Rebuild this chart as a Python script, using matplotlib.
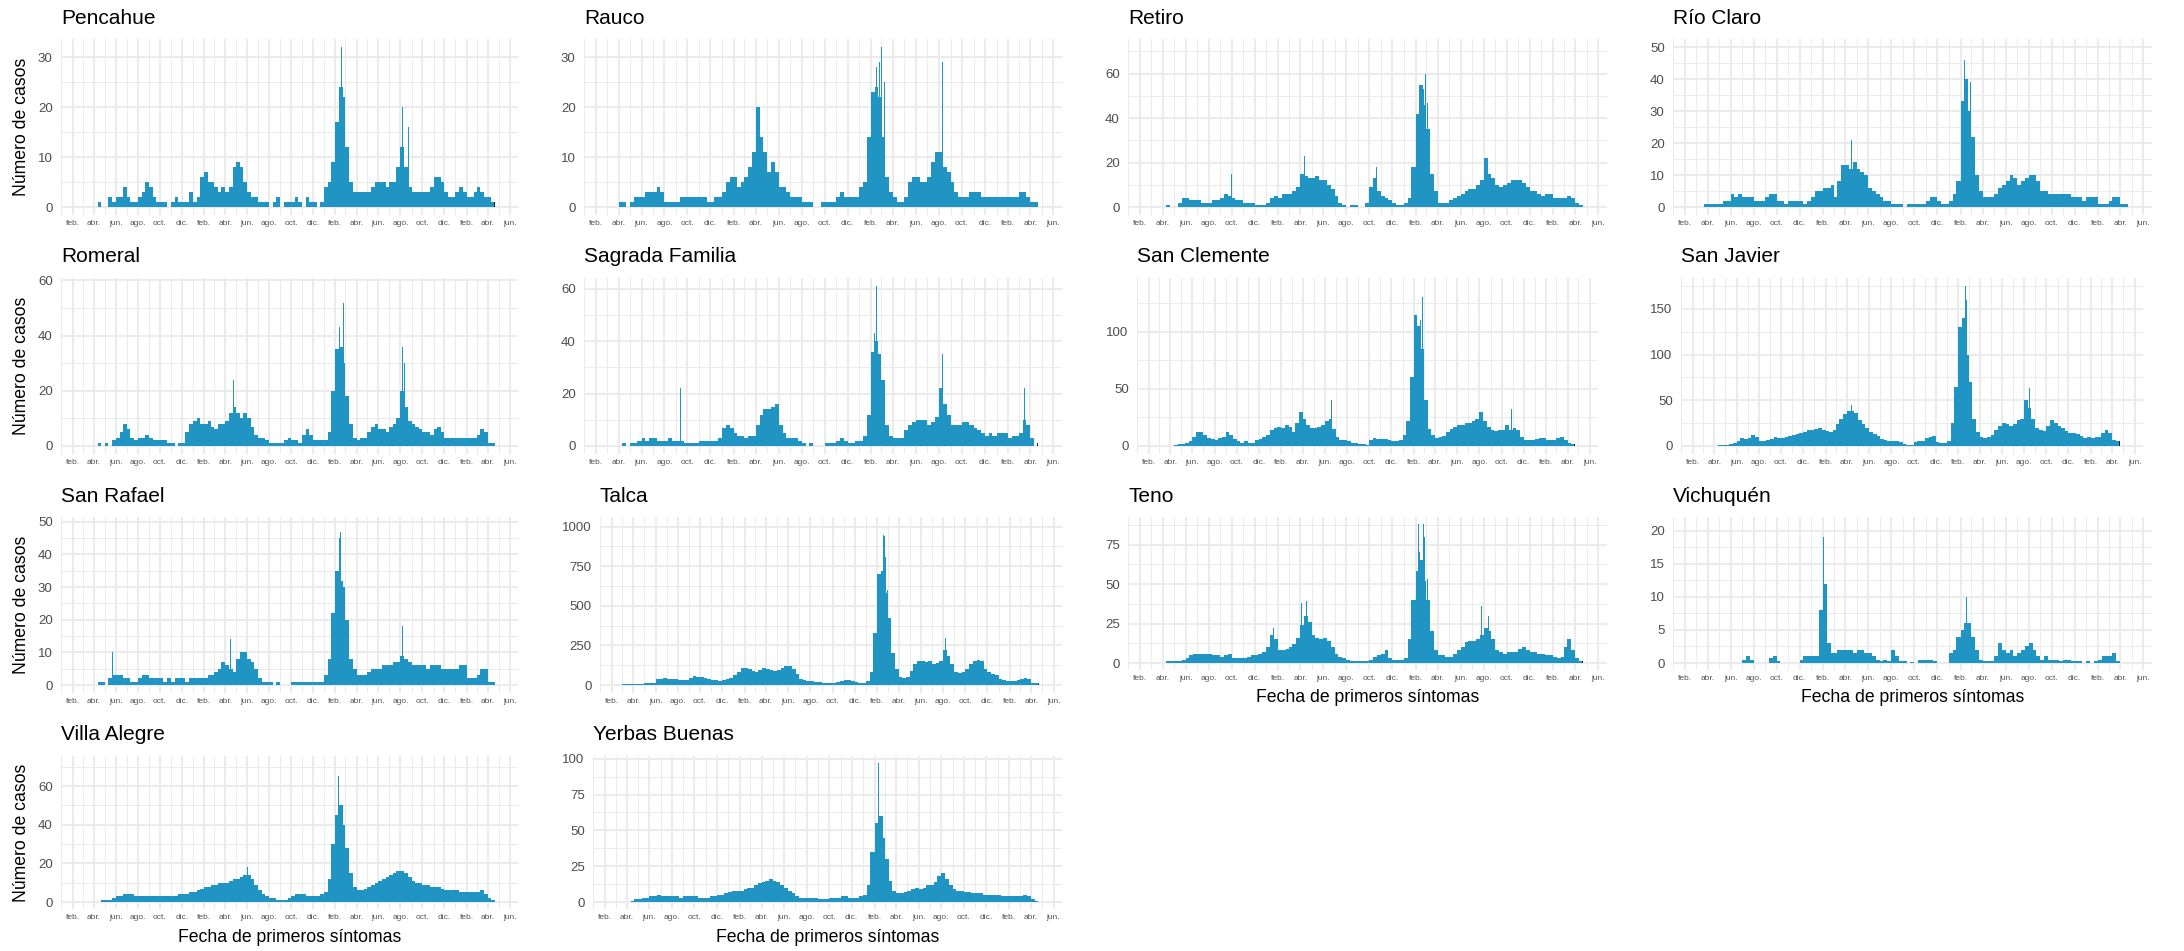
import numpy as np
import pandas as pd
import matplotlib
matplotlib.use("Agg")
import matplotlib.pyplot as plt
import matplotlib.dates as mdates
from matplotlib.ticker import MultipleLocator, FuncFormatter

plt.rcParams['font.family'] = ['Liberation Sans', 'DejaVu Sans']

comunas = ["Pencahue", "Rauco", "Retiro", "Río Claro", "Romeral", "Sagrada Familia",
           "San Clemente", "San Javier", "San Rafael", "Talca", "Teno", "Vichuquén",
           "Villa Alegre", "Yerbas Buenas"]

# casos diarios típicos por decena (días 1-10, 11-20, 21-fin), mar. 2020 .. abr. 2023
pencahue = [0, 0, 0, 0, 1, 0, 0, 2, 1, 2, 2, 4, 2, 1, 1, 2, 3, 5, 4, 2, 1, 1, 1, 0, 1, 2, 1, 1, 1, 3,
            1, 2, 6, 7, 5, 5, 4, 3, 4, 3, 4, 8, 9, 8, 5, 3, 2, 2, 1, 1, 1, 0, 1, 2, 0, 1, 1, 1, 2, 1, 0, 2, 1, 1, 0, 1,
            4, 5, 9, 17, 24, 22, 12, 5, 3, 3, 3, 3, 3, 4, 5, 5, 5, 4, 5, 5, 8, 12, 8, 4, 3, 3, 3, 3, 3, 4, 6, 6, 5, 3, 2, 2,
            3, 4, 3, 2, 2, 3, 4, 3, 2, 2, 1, 0]
rauco = [0, 0, 0, 1, 1, 0, 1, 2, 2, 2, 3, 3, 3, 4, 3, 1, 1, 1, 1, 2, 2, 2, 2, 2, 2, 2, 1, 1, 2, 2,
         3, 5, 6, 6, 4, 5, 6, 8, 11, 20, 14, 11, 7, 9, 7, 4, 4, 3, 2, 2, 2, 1, 1, 1, 0, 0, 1, 1, 1, 1, 2, 3, 2, 2, 2, 2,
         4, 5, 14, 23, 24, 22, 14, 6, 3, 2, 1, 1, 2, 5, 6, 6, 5, 5, 6, 9, 11, 11, 8, 7, 5, 3, 2, 2, 2, 3, 3, 3, 2, 2, 2, 2,
         2, 2, 2, 2, 2, 2, 3, 3, 2, 1, 1, 0]
retiro = [0, 0, 0, 0, 1, 0, 0, 2, 4, 4, 3, 3, 3, 2, 2, 2, 3, 3, 4, 6, 5, 4, 3, 3, 2, 2, 2, 1, 1, 1,
          2, 4, 5, 4, 6, 6, 6, 7, 9, 15, 14, 13, 13, 14, 12, 12, 10, 8, 5, 2, 1, 0, 1, 1, 0, 0, 2, 9, 13, 7, 5, 4, 3, 2, 1, 1,
          2, 4, 18, 42, 55, 46, 35, 15, 7, 2, 2, 2, 3, 4, 5, 6, 7, 8, 8, 10, 12, 22, 15, 13, 10, 9, 10, 11, 12, 12, 12, 11, 9, 7, 7, 6,
          5, 6, 6, 4, 4, 4, 4, 5, 4, 2, 1, 0]
rio_claro = [0, 0, 1, 1, 1, 1, 1, 2, 2, 4, 3, 4, 3, 3, 3, 2, 2, 2, 3, 4, 4, 2, 2, 1, 2, 2, 2, 2, 1, 2,
             3, 5, 5, 6, 6, 7, 3, 8, 13, 13, 12, 14, 12, 11, 10, 6, 5, 4, 3, 2, 2, 1, 1, 1, 0, 1, 1, 1, 1, 1, 2, 3, 3, 2, 1, 1,
             2, 4, 8, 33, 40, 30, 22, 10, 5, 3, 3, 3, 4, 6, 7, 8, 10, 9, 7, 8, 9, 10, 10, 8, 5, 5, 4, 4, 4, 4, 4, 4, 3, 3, 3, 2,
             3, 3, 3, 1, 1, 1, 2, 3, 3, 1, 1, 0]
romeral = [0, 0, 0, 0, 1, 0, 1, 0, 2, 3, 5, 8, 6, 3, 2, 3, 3, 4, 3, 2, 2, 2, 2, 1, 1, 0, 1, 1, 5, 8,
           9, 10, 8, 8, 9, 7, 6, 8, 8, 9, 12, 14, 12, 10, 12, 10, 7, 4, 3, 3, 2, 1, 1, 1, 1, 2, 3, 2, 2, 1, 4, 6, 4, 2, 2, 2,
           2, 5, 20, 35, 36, 30, 18, 8, 3, 2, 3, 3, 5, 7, 8, 6, 6, 5, 7, 8, 10, 20, 14, 9, 8, 7, 6, 5, 5, 4, 6, 7, 5, 3, 3, 3,
           3, 3, 3, 3, 3, 3, 4, 6, 5, 1, 1, 0]
sagrada_familia = [0, 0, 0, 0, 1, 0, 1, 1, 2, 3, 2, 3, 3, 2, 2, 2, 3, 2, 2, 2, 1, 1, 1, 1, 2, 2, 2, 2, 2, 3,
                   7, 8, 7, 5, 4, 4, 3, 4, 4, 8, 12, 14, 14, 15, 16, 8, 5, 3, 3, 3, 2, 1, 0, 1, 0, 0, 0, 1, 1, 1, 2, 3, 2, 1, 1, 2,
                   2, 4, 12, 36, 40, 35, 25, 8, 4, 3, 3, 3, 6, 8, 9, 10, 10, 10, 8, 9, 11, 22, 16, 12, 8, 8, 8, 9, 9, 8, 7, 6, 5, 4, 5, 4,
                   5, 5, 5, 3, 4, 4, 5, 10, 8, 3, 0, 0]
san_clemente = [0, 0, 0, 0, 1, 2, 2, 3, 4, 8, 12, 12, 10, 7, 6, 5, 7, 8, 12, 10, 6, 4, 3, 4, 3, 3, 5, 6, 8, 10,
                14, 16, 17, 16, 18, 17, 12, 20, 30, 24, 18, 16, 16, 17, 18, 22, 24, 15, 8, 5, 5, 4, 3, 3, 2, 2, 1, 5, 7, 6, 6, 6, 5, 4, 4, 5,
                10, 22, 60, 115, 105, 85, 40, 15, 10, 7, 8, 9, 12, 15, 17, 18, 18, 20, 20, 22, 24, 30, 22, 17, 14, 13, 14, 14, 18, 14, 16, 14, 8, 5, 5, 5,
                6, 7, 7, 5, 5, 5, 7, 8, 5, 3, 2, 0]
san_javier = [0, 0, 0, 0, 1, 1, 1, 2, 3, 6, 9, 8, 9, 12, 10, 6, 5, 7, 8, 10, 9, 9, 10, 11, 12, 13, 14, 15, 17, 18,
              19, 20, 18, 16, 15, 17, 24, 30, 35, 38, 38, 36, 28, 24, 20, 15, 13, 11, 8, 7, 6, 5, 5, 4, 2, 1, 1, 4, 6, 6, 9, 10, 11, 4, 3, 3,
              6, 25, 65, 130, 140, 100, 70, 30, 15, 10, 9, 10, 12, 18, 22, 25, 24, 22, 24, 28, 30, 50, 42, 30, 20, 18, 16, 22, 28, 25, 22, 20, 16, 14, 14, 13,
              11, 9, 10, 9, 10, 10, 14, 18, 14, 7, 5, 0]
san_rafael = [0, 0, 0, 0, 1, 1, 0, 2, 3, 3, 3, 2, 2, 1, 1, 2, 3, 3, 2, 2, 2, 2, 1, 2, 1, 2, 2, 2, 1, 2,
              2, 2, 2, 2, 3, 3, 4, 5, 7, 6, 5, 4, 8, 10, 10, 8, 7, 5, 2, 1, 1, 1, 0, 1, 0, 0, 0, 1, 1, 1, 1, 1, 1, 1, 1, 1,
              3, 8, 22, 35, 32, 30, 20, 8, 5, 3, 3, 3, 4, 5, 5, 5, 6, 6, 6, 7, 7, 9, 8, 7, 6, 6, 6, 6, 5, 6, 6, 6, 5, 5, 5, 5,
              5, 6, 6, 2, 2, 2, 3, 5, 5, 1, 1, 0]
talca = [4, 6, 6, 7, 8, 9, 10, 12, 15, 35, 40, 42, 40, 38, 35, 30, 30, 32, 45, 55, 52, 48, 45, 40, 32, 30, 28, 30, 35, 45,
         60, 85, 105, 105, 100, 90, 85, 95, 105, 100, 95, 90, 95, 110, 120, 120, 100, 70, 35, 30, 28, 25, 22, 20, 12, 10, 10, 15, 22, 25, 30, 32, 28, 18, 15, 15,
         25, 80, 330, 700, 720, 580, 420, 200, 100, 50, 45, 50, 90, 130, 150, 150, 145, 150, 130, 140, 150, 220, 180, 130, 85, 75, 80, 100, 130, 150, 160, 150, 100, 80, 70, 65,
         35, 30, 28, 25, 28, 30, 35, 42, 38, 15, 12, 0]
teno = [0, 0, 0, 0, 1, 1, 1, 1, 2, 3, 5, 6, 6, 6, 6, 6, 5, 5, 4, 5, 6, 3, 3, 3, 3, 4, 5, 5, 6, 7,
        10, 18, 15, 8, 8, 9, 10, 12, 16, 24, 30, 26, 18, 16, 15, 16, 14, 10, 6, 4, 3, 2, 1, 1, 1, 1, 1, 2, 4, 5, 6, 8, 3, 2, 2, 2,
        3, 15, 40, 58, 65, 52, 40, 20, 8, 5, 5, 4, 4, 6, 8, 10, 13, 14, 14, 15, 18, 22, 20, 15, 8, 7, 6, 7, 7, 7, 9, 10, 8, 7, 7, 6,
        6, 5, 5, 4, 3, 4, 10, 15, 8, 3, 1, 0]
vichuquen = [0, 0, 0, 0, 0, 0, 0, 0, 0, 0, 0, 0, 0.5, 1, 0.5, 0, 0, 0, 0, 0.8, 1, 0.3, 0, 0, 0, 0, 0, 0.5, 1, 1,
             1, 1, 8, 12, 3, 1.5, 1.5, 2, 2, 2, 2, 1.5, 2, 2, 1.5, 1.5, 1, 0.5, 0.3, 0.5, 0.3, 2, 1, 0.3, 0.3, 0, 0.2, 0, 0.5, 0.5, 0.5, 0.5, 0.3, 0, 0, 0,
             1.5, 2, 4, 5, 6, 6, 4, 2, 0.5, 0.3, 0.3, 0.3, 1, 3, 2, 1.5, 2, 1, 1.5, 2, 2.5, 3, 2, 1, 0.5, 1, 0.5, 0.5, 0.5, 0.3, 0.5, 0.5, 0.3, 0.3, 0.3, 0,
             0.3, 0, 0.3, 0.5, 1, 1, 1, 1.5, 0.3, 0, 0, 0]
villa_alegre = [0, 0, 0, 0, 0, 1, 1, 1, 2, 3, 3, 4, 4, 4, 3, 3, 3, 3, 3, 3, 3, 3, 3, 3, 3, 3, 4, 4, 4, 5,
                5, 6, 7, 8, 8, 9, 9, 10, 10, 10, 11, 12, 12, 13, 14, 14, 12, 9, 6, 4, 3, 2, 2, 1, 1, 1, 2, 3, 4, 4, 4, 3, 3, 3, 3, 4,
                5, 12, 30, 45, 50, 40, 28, 15, 8, 6, 6, 7, 8, 9, 10, 11, 12, 13, 14, 15, 16, 16, 15, 13, 11, 10, 10, 9, 9, 8, 8, 8, 7, 6, 6, 6,
                6, 5, 5, 5, 5, 5, 5, 6, 4, 2, 1, 0]
yerbas_buenas = [0, 0, 0, 0, 1, 2, 2, 3, 3, 4, 4, 5, 4, 4, 4, 4, 4, 3, 4, 4, 4, 4, 3, 3, 3, 4, 4, 5, 5, 6,
                 7, 8, 8, 8, 9, 10, 10, 12, 13, 14, 15, 16, 15, 14, 12, 10, 8, 6, 4, 3, 3, 3, 3, 3, 2, 2, 2, 3, 3, 3, 4, 4, 3, 3, 3, 4,
                 5, 12, 35, 55, 60, 45, 30, 15, 8, 6, 6, 7, 8, 9, 10, 9, 10, 12, 12, 14, 18, 20, 16, 12, 9, 8, 8, 7, 7, 6, 6, 6, 5, 5, 5, 5,
                 5, 4, 4, 4, 4, 4, 4, 5, 4, 2, 1, 0]

# días con los valores más altos (fecha, casos)
pencahue_picos = [("2022-02-14", 28), ("2022-02-18", 32), ("2022-02-22", 27), ("2022-03-03", 29),
                  ("2022-08-07", 20), ("2022-08-23", 16), ("2021-01-29", 12), ("2021-05-28", 12)]
rauco_picos = [("2021-04-06", 30), ("2021-04-22", 25), ("2022-02-16", 28), ("2022-02-24", 29),
               ("2022-03-01", 32), ("2022-03-09", 25), ("2022-08-10", 29)]
retiro_picos = [("2022-02-13", 67), ("2022-02-16", 72), ("2022-02-22", 53), ("2022-02-27", 60),
                ("2022-03-05", 47), ("2022-08-17", 38), ("2022-11-16", 26), ("2021-04-12", 23),
                ("2020-09-30", 15), ("2021-10-21", 18)]
rio_claro_picos = [("2022-02-12", 46), ("2022-02-18", 50), ("2022-02-21", 42), ("2022-02-24", 48),
                   ("2022-02-27", 39), ("2021-04-18", 21), ("2021-05-10", 20), ("2022-08-01", 18),
                   ("2021-02-19", 16)]
romeral_picos = [("2022-02-03", 53), ("2022-02-09", 58), ("2022-02-13", 43), ("2022-02-24", 52),
                 ("2022-08-07", 36), ("2022-08-12", 30), ("2021-04-24", 24), ("2020-12-07", 18)]
sagrada_familia_picos = [("2022-02-10", 43), ("2022-02-16", 61), ("2022-02-23", 51), ("2022-03-02", 42),
                         ("2022-08-10", 35), ("2021-05-24", 24), ("2020-09-12", 22), ("2023-03-16", 22)]
san_clemente_picos = [("2022-02-10", 115), ("2022-02-13", 140), ("2022-02-15", 135), ("2022-02-20", 110),
                      ("2022-02-25", 130), ("2020-09-04", 42), ("2021-03-30", 43), ("2021-06-19", 40),
                      ("2022-08-13", 42), ("2022-10-28", 32)]
san_javier_picos = [("2022-02-12", 133), ("2022-02-17", 145), ("2022-02-19", 140), ("2022-02-21", 175),
                    ("2022-02-23", 160), ("2022-03-13", 113), ("2022-08-12", 63), ("2022-08-16", 63),
                    ("2021-04-13", 45), ("2022-10-22", 42)]
san_rafael_picos = [("2022-02-13", 45), ("2022-02-15", 47), ("2022-02-17", 49), ("2022-02-28", 41),
                    ("2022-03-02", 37), ("2022-08-07", 18), ("2021-06-01", 17), ("2021-04-16", 14),
                    ("2023-03-24", 14), ("2020-05-22", 10)]
talca_picos = [("2022-02-13", 640), ("2022-02-16", 1010), ("2022-02-18", 945), ("2022-02-21", 940),
               ("2022-02-24", 810), ("2022-03-01", 600), ("2022-08-07", 295), ("2022-08-14", 250),
               ("2022-06-10", 220), ("2022-11-16", 220), ("2021-06-05", 155), ("2021-04-20", 135)]
teno_picos = [("2022-02-09", 88), ("2022-02-11", 70), ("2022-02-22", 88), ("2022-02-25", 80),
              ("2022-03-05", 53), ("2021-04-05", 38), ("2021-04-18", 39), ("2022-07-26", 36),
              ("2022-08-14", 30), ("2021-01-20", 22)]
vichuquen_picos = [("2021-01-27", 14), ("2021-01-30", 12), ("2021-02-02", 19), ("2021-02-04", 21),
                   ("2021-02-06", 9), ("2022-01-06", 10), ("2022-02-17", 10), ("2022-02-24", 10),
                   ("2022-05-16", 6)]
villa_alegre_picos = [("2022-02-10", 65), ("2022-02-14", 72), ("2022-02-20", 55), ("2021-06-02", 18),
                      ("2022-08-08", 20)]
yerbas_buenas_picos = [("2022-02-12", 97), ("2022-02-16", 75), ("2022-02-22", 60), ("2022-08-05", 28),
                       ("2021-05-10", 20)]

# último día informado (barra oscura)
ultimo_dia = "2023-04-20"
ultimo_valor = [1, 0, 0, 0, 0, 1, 2, 5, 0, 8, 1, 0, 0, 0]

meses_es = {2: "feb.", 4: "abr.", 6: "jun.", 8: "ago.", 10: "oct.", 12: "dic."}
paso_y = [10, 10, 20, 10, 20, 20, 50, 50, 10, 250, 25, 5, 20, 25]

series = [pencahue, rauco, retiro, rio_claro, romeral, sagrada_familia, san_clemente,
          san_javier, san_rafael, talca, teno, vichuquen, villa_alegre, yerbas_buenas]
picos = [pencahue_picos, rauco_picos, retiro_picos, rio_claro_picos, romeral_picos,
         sagrada_familia_picos, san_clemente_picos, san_javier_picos, san_rafael_picos,
         talca_picos, teno_picos, vichuquen_picos, villa_alegre_picos, yerbas_buenas_picos]

# decenas de cada mes
ini, anchos = [], []
for m in pd.date_range("2020-03-01", "2023-04-01", freq="MS"):
    cortes = [m, m + pd.Timedelta(days=10), m + pd.Timedelta(days=20), m + pd.offsets.MonthBegin(1)]
    for a, b in zip(cortes[:-1], cortes[1:]):
        ini.append(mdates.date2num(a))
        anchos.append((b - a).days)

AZUL = "#2094C3"
OSCURO = "#0B2446"
GRIS = "#EBEBEB"

W, H = 2184, 951
fig = plt.figure(figsize=(W / 100, H / 100), dpi=100)

izq = [61, 584, 1128, 1673, 61, 584, 1137, 1681, 61, 600, 1128, 1673, 61, 593]
der = [518, 1062, 1607, 2152, 518, 1062, 1598, 2143, 518, 1062, 1607, 2152, 518, 1062]
con_xlabel = [False] * 10 + [True] * 4

for i, nombre in enumerate(comunas):
    fila = i // 4
    celda = 239 * fila
    top = celda + 39
    bottom = celda + (192 if con_xlabel[i] else 215)
    l, r = izq[i], der[i]
    ax = fig.add_axes([l / W, 1 - bottom / H, (r - l) / W, (bottom - top) / H])

    vals = np.array(series[i], dtype=float)
    ax.bar(ini, vals, width=anchos, align="edge", color=AZUL, linewidth=0, zorder=2)
    fechas = [mdates.date2num(pd.Timestamp(d)) for d, v in picos[i]]
    alturas = [v for d, v in picos[i]]
    ax.bar(fechas, alturas, width=1.3, align="center", color=AZUL, linewidth=0, zorder=2)
    if ultimo_valor[i] > 0:
        ax.bar([mdates.date2num(pd.Timestamp(ultimo_dia))], [ultimo_valor[i]], width=1.3,
               color=OSCURO, linewidth=0, zorder=3)

    ymax = max(vals.max(), max(alturas))
    ax.set_ylim(-0.05 * ymax, 1.05 * ymax)
    ax.set_xlim(mdates.date2num(pd.Timestamp("2019-12-31")), mdates.date2num(pd.Timestamp("2023-06-24")))

    ax.xaxis.set_major_locator(mdates.MonthLocator(bymonth=[2, 4, 6, 8, 10, 12]))
    ax.xaxis.set_minor_locator(mdates.MonthLocator(bymonth=[1, 3, 5, 7, 9, 11]))
    ax.xaxis.set_major_formatter(FuncFormatter(lambda x, pos: meses_es[mdates.num2date(x).month]))
    ax.yaxis.set_major_locator(MultipleLocator(paso_y[i]))
    ax.yaxis.set_minor_locator(MultipleLocator(paso_y[i] / 2))

    ax.grid(which="major", color=GRIS, linewidth=1.5, zorder=0)
    ax.grid(which="minor", color=GRIS, linewidth=0.75, zorder=0)
    ax.set_axisbelow(True)
    for s in ax.spines.values():
        s.set_visible(False)
    ax.tick_params(which="both", length=0)
    ax.tick_params(axis="x", labelsize=6, labelcolor="#555555", pad=3.5)
    ax.tick_params(axis="y", labelsize=9.5, labelcolor="#4D4D4D", pad=6)

    fig.text(l / W, 1 - (celda + 18) / H, nombre, fontsize=15, color="black", ha="left", va="center")
    if i % 4 == 0:
        fig.text(22 / W, 1 - ((top + bottom) / 2) / H, "Número de casos", rotation=90,
                 fontsize=12.7, color="black", ha="center", va="center")
    if con_xlabel[i]:
        fig.text(((l + r) / 2) / W, 1 - (celda + 220) / H, "Fecha de primeros síntomas",
                 fontsize=12.7, color="black", ha="center", va="center")

fig.savefig("out.png", dpi=100, facecolor="white")
